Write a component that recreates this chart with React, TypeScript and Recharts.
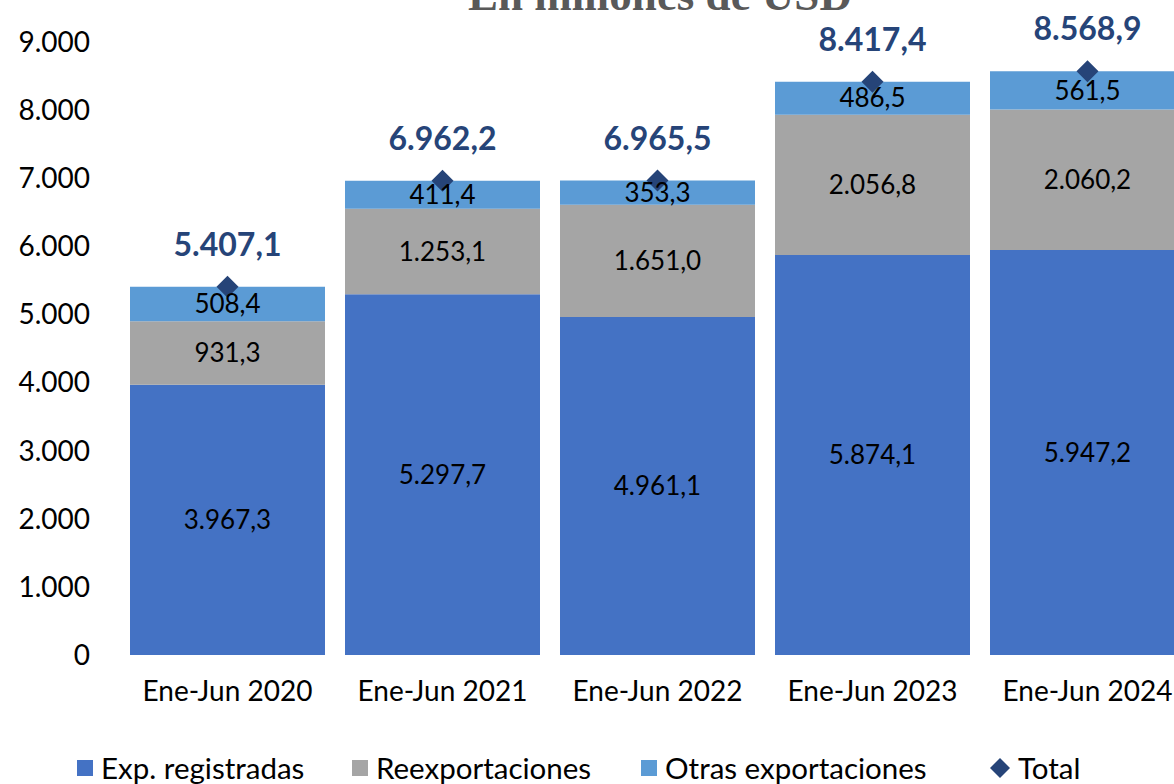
import { ComposedChart, Bar, Line, XAxis, YAxis, LabelList } from "recharts";

const categories = ["Ene-Jun 2020", "Ene-Jun 2021", "Ene-Jun 2022", "Ene-Jun 2023", "Ene-Jun 2024"];
const expRegistradas = [3967.3, 5297.7, 4961.1, 5874.1, 5947.2];
const reexportaciones = [931.3, 1253.1, 1651.0, 2056.8, 2060.2];
const otrasExportaciones = [508.4, 411.4, 353.3, 486.5, 561.5];
const totals = [5407.1, 6962.2, 6965.5, 8417.4, 8568.9];
const yTicks = [0, 1000, 2000, 3000, 4000, 5000, 6000, 7000, 8000, 9000];

const FONT = "Lato, 'Open Sans', sans-serif";
const C_EXP = "#4472C4";
const C_REEX = "#A5A5A5";
const C_OTRAS = "#5B9BD5";
const C_TOTAL = "#264478";

// 1234.5 -> "1.234,5"
function fmt(v: number, dec = 1) {
  const [int, frac] = Math.abs(v).toFixed(dec).split(".");
  const grouped = int.replace(/\B(?=(\d{3})+(?!\d))/g, ".");
  return (v < 0 ? "-" : "") + grouped + (frac ? "," + frac : "");
}

const data = categories.map((cat, i) => ({
  cat,
  exp: expRegistradas[i],
  reex: reexportaciones[i],
  otras: otrasExportaciones[i],
  total: totals[i],
}));

const Diamond = (props: any) => {
  const { cx, cy, index } = props;
  if (cx == null || cy == null) return <g key={index} />;
  const r = 11;
  return (
    <path
      key={index}
      d={`M${cx},${cy - r} L${cx + r},${cy} L${cx},${cy + r} L${cx - r},${cy} Z`}
      fill={C_TOTAL}
    />
  );
};

const legendItems = [
  { label: "Exp. registradas", color: C_EXP, x: 77, type: "rect" },
  { label: "Reexportaciones", color: C_REEX, x: 352, type: "rect" },
  { label: "Otras exportaciones", color: C_OTRAS, x: 641, type: "rect" },
  { label: "Total", color: C_TOTAL, x: 990, type: "diamond" },
];

export default function App() {
  return (
    <div style={{ position: "absolute", left: 0, top: 0, width: 1174, height: 784, overflow: "hidden", background: "#fff" }}>
      <ComposedChart
        width={1215}
        height={784}
        data={data}
        margin={{ top: 42, right: 20, left: 0, bottom: 0 }}
        barCategoryGap={20}
      >
        <XAxis
          dataKey="cat"
          height={129}
          axisLine={false}
          tickLine={false}
          tickSize={0}
          tickMargin={26}
          interval={0}
          tick={{ fill: "#000", fontSize: 28, fontFamily: FONT }}
        />
        <YAxis
          width={120}
          domain={[0, 9000]}
          ticks={yTicks}
          interval={0}
          axisLine={false}
          tickLine={false}
          tickSize={0}
          tickMargin={30}
          tickFormatter={(v) => fmt(v, 0)}
          tick={{ fill: "#000", fontSize: 28, fontFamily: FONT }}
        />
        <Bar dataKey="exp" stackId="a" fill={C_EXP} barSize={195} isAnimationActive={false}>
          <LabelList dataKey="exp" position="center" formatter={(v: any) => fmt(Number(v))} fill="#000" fontSize={26} fontFamily={FONT} />
        </Bar>
        <Bar dataKey="reex" stackId="a" fill={C_REEX} barSize={195} isAnimationActive={false}>
          <LabelList dataKey="reex" position="center" formatter={(v: any) => fmt(Number(v))} fill="#000" fontSize={26} fontFamily={FONT} />
        </Bar>
        <Bar dataKey="otras" stackId="a" fill={C_OTRAS} barSize={195} isAnimationActive={false}>
          <LabelList dataKey="otras" position="center" formatter={(v: any) => fmt(Number(v))} fill="#000" fontSize={26} fontFamily={FONT} />
        </Bar>
        <Line
          dataKey="total"
          stroke="none"
          dot={Diamond}
          activeDot={false}
          legendType="diamond"
          isAnimationActive={false}
        >
          <LabelList
            dataKey="total"
            position="top"
            offset={31}
            formatter={(v: any) => fmt(Number(v))}
            fill={C_TOTAL}
            fontSize={32}
            fontWeight="bold"
            fontFamily={FONT}
          />
        </Line>
      </ComposedChart>

      <svg width={1174} height={784} style={{ position: "absolute", left: 0, top: 0, pointerEvents: "none" }}>
        <text
          x={660}
          y={10}
          textAnchor="middle"
          fontFamily="'Liberation Serif', 'DejaVu Serif', serif"
          fontWeight="bold"
          fontSize={45}
          fill="#595959"
        >
          En millones de USD
        </text>
        {legendItems.map((it) => (
          <g key={it.label}>
            {it.type === "rect" ? (
              <rect x={it.x} y={760} width={16} height={16} fill={it.color} />
            ) : (
              <path d={`M${it.x + 10},758 L${it.x + 20},768 L${it.x + 10},778 L${it.x},768 Z`} fill={it.color} />
            )}
            <text
              x={it.x + (it.type === "rect" ? 24 : 28)}
              y={768}
              dy="0.36em"
              fontFamily={FONT}
              fontSize={29.5}
              fill="#000"
            >
              {it.label}
            </text>
          </g>
        ))}
      </svg>
    </div>
  );
}
